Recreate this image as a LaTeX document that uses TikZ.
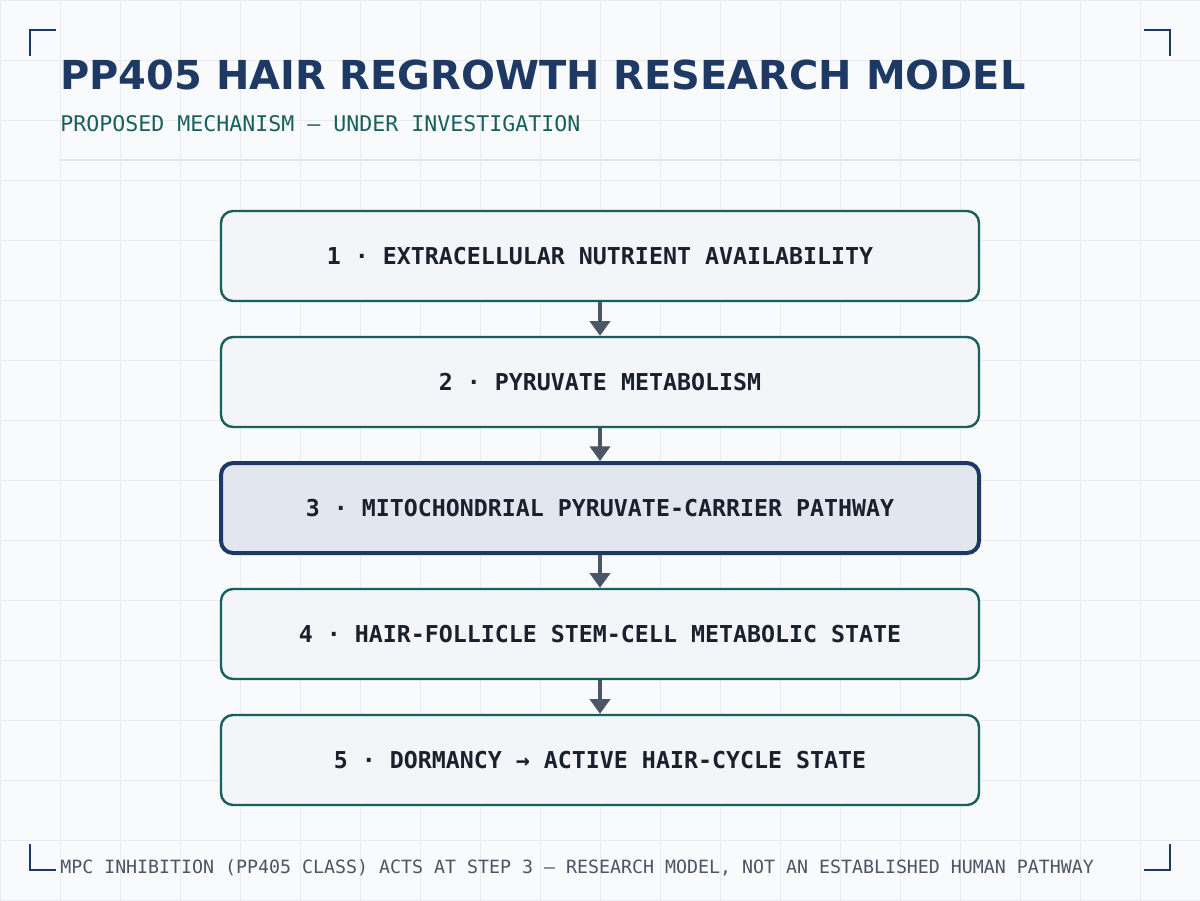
\documentclass[tikz,border=0pt]{standalone}
\usepackage{fontspec}
\setmainfont{DejaVu Sans}
\newfontfamily\monofont{DejaVu Sans Mono}
\usetikzlibrary{arrows.meta}
\definecolor{bgc}{HTML}{F8FAFC}
\definecolor{gridc}{HTML}{E8ECF1}
\definecolor{navy}{HTML}{1E3A64}
\definecolor{teal}{HTML}{17605C}
\definecolor{boxfill}{HTML}{F3F5F8}
\definecolor{hifill}{HTML}{E2E7EF}
\definecolor{txt}{HTML}{1A202C}
\definecolor{arrowc}{HTML}{4B5563}
\definecolor{divc}{HTML}{E3E7EC}
\tikzset{
  stepbox/.style={draw=teal, line width=1.8pt, fill=boxfill, rounded corners=9pt,
    minimum width=568.5pt, minimum height=67.5pt, inner sep=0pt,
    font=\monofont\bfseries\fontsize{17.45}{20}\selectfont, text=txt},
  hibox/.style={stepbox, draw=navy, line width=3pt, fill=hifill},
  flow/.style={draw=arrowc, line width=3pt, -{Triangle[width=15pt,length=11pt]}, shorten >=0pt},
  bracket/.style={draw=navy, line width=2pt},
}
\begin{document}
\begin{tikzpicture}[x=0.75pt,y=-0.75pt]
\useasboundingbox (0,0) rectangle (1200,900);
\fill[bgc] (0,0) rectangle (1200,900);
\foreach \i in {0,60,...,1200} { \draw[gridc, line width=0.75pt] (\i,0) -- (\i,900); }
\foreach \j in {0,60,...,900} { \draw[gridc, line width=0.75pt] (0,\j) -- (1200,\j); }
% corner brackets
\draw[bracket] (30,56) -- (30,30) -- (56,30);
\draw[bracket] (1144,30) -- (1170,30) -- (1170,56);
\draw[bracket] (30,844) -- (30,870) -- (56,870);
\draw[bracket] (1144,870) -- (1170,870) -- (1170,844);
% title
\node[anchor=base west, inner sep=0pt, text=navy, font=\bfseries\fontsize{29.94}{36}\selectfont] (title) at (60,89) {PP405 HAIR REGROWTH RESEARCH MODEL};
\node[anchor=base west, inner sep=0pt, text=teal, font=\monofont\fontsize{16.2}{19}\selectfont] (sub) at (60,131) {PROPOSED MECHANISM — UNDER INVESTIGATION};
\draw[divc, line width=2.2pt] (60,160) -- (1140,160);
% boxes
\node[stepbox] (s1) at (600,256) {1 · EXTRACELLULAR NUTRIENT AVAILABILITY};
\node[stepbox] (s2) at (600,382) {2 · PYRUVATE METABOLISM};
\node[hibox] (s3) at (600,508) {3 · MITOCHONDRIAL PYRUVATE-CARRIER PATHWAY};
\node[stepbox] (s4) at (600,634) {4 · HAIR-FOLLICLE STEM-CELL METABOLIC STATE};
\node[stepbox] (s5) at (600,760) {5 · DORMANCY → ACTIVE HAIR-CYCLE STATE};
\draw[flow] (s1.south) -- (s2.north);
\draw[flow] (s2.south) -- (s3.north);
\draw[flow] (s3.south) -- (s4.north);
\draw[flow] (s4.south) -- (s5.north);
% footer
\node[anchor=base west, inner sep=0pt, text=arrowc, font=\monofont\fontsize{13.7}{16}\selectfont] (foot) at (60,873) {MPC INHIBITION (PP405 CLASS) ACTS AT STEP 3 — RESEARCH MODEL, NOT AN ESTABLISHED HUMAN PATHWAY};
\end{tikzpicture}
\end{document}
